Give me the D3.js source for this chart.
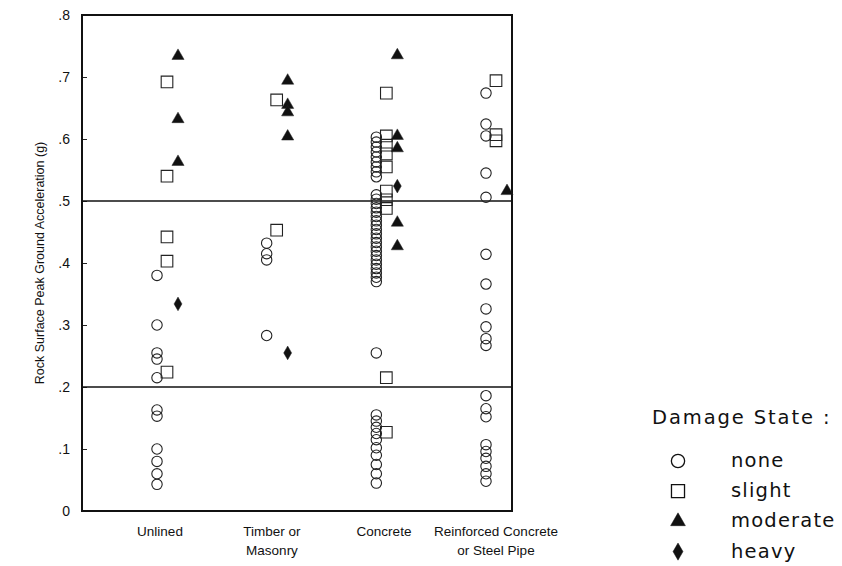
<!DOCTYPE html>
<html>
<head>
<meta charset="utf-8">
<script src="https://cdn.jsdelivr.net/npm/d3@7"></script>
<style>
  html, body { margin: 0; padding: 0; background: #fff; }
  svg { display: block; }
</style>
</head>
<body>
<svg id="chart" width="842" height="566"></svg>
<script>
// Tunnel categories along the x axis
const categories = ["Unlined", "Timber or Masonry", "Concrete", "Reinforced Concrete or Steel Pipe"];
const categoryLines = [["Unlined"], ["Timber or", "Masonry"], ["Concrete"], ["Reinforced Concrete", "or Steel Pipe"]];

// Damage states shown in the legend
const damageStates = ["none", "slight", "moderate", "heavy"];

// Rock surface PGA (g) per category, one array per damage state
const noneValues = [
  [0.38, 0.30, 0.255, 0.245, 0.215, 0.163, 0.153, 0.10, 0.08, 0.06, 0.043],
  [0.432, 0.415, 0.405, 0.283],
  [0.603, 0.595, 0.587, 0.579, 0.571, 0.563, 0.555, 0.547, 0.539,
   0.510, 0.503, 0.496, 0.489, 0.482, 0.475, 0.468, 0.461, 0.454, 0.447, 0.440,
   0.433, 0.426, 0.419, 0.412, 0.405, 0.398, 0.391, 0.384, 0.377, 0.370,
   0.255, 0.155, 0.145, 0.135, 0.125, 0.115, 0.102, 0.09, 0.075, 0.06, 0.045],
  [0.674, 0.624, 0.605, 0.545, 0.506, 0.414, 0.366, 0.326, 0.297, 0.278, 0.267,
   0.186, 0.165, 0.152, 0.107, 0.096, 0.085, 0.072, 0.06, 0.048]
];
const slightValues = [
  [0.692, 0.54, 0.442, 0.403, 0.224],
  [0.663, 0.453],
  [0.674, 0.605, 0.59, 0.576, 0.555, 0.516, 0.502, 0.488, 0.215, 0.127],
  [0.694, 0.607, 0.597]
];
const moderateValues = [
  [0.734, 0.632, 0.563],
  [0.694, 0.655, 0.643, 0.604],
  [0.735, 0.605, 0.585, 0.465, 0.427],
  [0.516]
];
const heavyValues = [
  [0.334],
  [0.255],
  [0.524],
  []
];

// Y axis ticks
const yTicks = [0, 0.1, 0.2, 0.3, 0.4, 0.5, 0.6, 0.7, 0.8];
const yTickLabels = ["0", ".1", ".2", ".3", ".4", ".5", ".6", ".7", ".8"];
// Reference levels drawn across the plot
const referenceLevels = [0.5, 0.2];

const seriesByState = [noneValues, slightValues, moderateValues, heavyValues];

const svg = d3.select("#chart");
const plot = { left: 82, top: 15, right: 512, bottom: 511 };

const y = d3.scaleLinear().domain([0, 0.8]).range([plot.bottom, plot.top]);
const x = d3.scalePoint().domain(categories).range([plot.left + 85, plot.left + 414]);
// category captions sit on their own, slightly wider spacing
const xLabel = d3.scalePoint().domain(categories).range([plot.left + 78, plot.left + 414]);

// horizontal offset of each damage state within a category column
const stateOffset = { none: -10, slight: 0, moderate: 11, heavy: 11 };

const symbolFor = {
  none: d3.symbol().type(d3.symbolCircle).size(Math.PI * 27),
  slight: d3.symbol().type(d3.symbolSquare).size(135),
  moderate: d3.symbol().type(d3.symbolTriangle).size(64),
  heavy: d3.symbol().type(d3.symbolDiamond).size(54)
};
const filled = { none: false, slight: false, moderate: true, heavy: true };

// Y axis with inward ticks
const yAxis = d3.axisLeft(y)
  .tickValues(yTicks)
  .tickFormat((d, i) => yTickLabels[i])
  .tickSizeInner(-5)
  .tickSizeOuter(0)
  .tickPadding(12);

const yg = svg.append("g")
  .attr("transform", `translate(${plot.left},0)`)
  .call(yAxis);
yg.select(".domain").remove();
yg.selectAll(".tick line").attr("stroke", "#222").attr("stroke-width", 1);
yg.selectAll(".tick text")
  .attr("font-family", "Liberation Sans, Arial, sans-serif")
  .attr("font-size", 14)
  .attr("fill", "#111");

// Reference lines
svg.append("g").selectAll("line")
  .data(referenceLevels)
  .join("line")
  .attr("x1", plot.left)
  .attr("x2", plot.right)
  .attr("y1", d => y(d))
  .attr("y2", d => y(d))
  .attr("stroke", "#111")
  .attr("stroke-width", 1.6);

// Frame
svg.append("rect")
  .attr("x", plot.left)
  .attr("y", plot.top)
  .attr("width", plot.right - plot.left)
  .attr("height", plot.bottom - plot.top)
  .attr("fill", "none")
  .attr("stroke", "#111")
  .attr("stroke-width", 2);

// Markers
damageStates.forEach((state, si) => {
  const pts = [];
  seriesByState[si].forEach((vals, ci) => {
    vals.forEach(v => pts.push({ cat: categories[ci], v }));
  });
  svg.append("g").attr("class", "state-" + state)
    .selectAll("path")
    .data(pts)
    .join("path")
    .attr("d", symbolFor[state])
    .attr("transform", d => `translate(${x(d.cat) + stateOffset[state]},${y(d.v)})`)
    .attr("fill", filled[state] ? "#111" : "none")
    .attr("stroke", "#222")
    .attr("stroke-width", filled[state] ? 0.5 : 1.1);
});

// Category labels
const catLabels = svg.append("g")
  .attr("font-family", "Liberation Sans, Arial, sans-serif")
  .attr("font-size", 13.5)
  .attr("fill", "#111")
  .attr("text-anchor", "middle");
categories.forEach((c, i) => {
  const t = catLabels.append("text")
    .attr("x", xLabel(c))
    .attr("y", 536);
  categoryLines[i].forEach((line, li) => {
    t.append("tspan")
      .attr("x", xLabel(c))
      .attr("dy", li === 0 ? 0 : 19)
      .text(line);
  });
});

// Y axis title
svg.append("text")
  .attr("transform", `translate(44,263) rotate(-90)`)
  .attr("text-anchor", "middle")
  .attr("font-family", "Liberation Sans, Arial, sans-serif")
  .attr("font-size", 12.5)
  .attr("fill", "#111")
  .text("Rock Surface Peak Ground Acceleration (g)");

// Legend
const legend = svg.append("g")
  .attr("font-family", "DejaVu Sans, sans-serif")
  .attr("fill", "#111");
legend.append("text")
  .attr("x", 652)
  .attr("y", 424)
  .attr("font-size", 19.5)
  .attr("letter-spacing", 1.9)
  .text("Damage State :");

const legendSymbol = {
  none: d3.symbol().type(d3.symbolCircle).size(Math.PI * 44),
  slight: d3.symbol().type(d3.symbolSquare).size(170),
  moderate: d3.symbol().type(d3.symbolTriangle).size(95),
  heavy: d3.symbol().type(d3.symbolDiamond).size(85)
};
damageStates.forEach((state, i) => {
  const cy = 461 + i * 30.2;
  legend.append("path")
    .attr("d", legendSymbol[state])
    .attr("transform", `translate(678,${cy})`)
    .attr("fill", filled[state] ? "#111" : "none")
    .attr("stroke", "#111")
    .attr("stroke-width", filled[state] ? 0.5 : 1.3);
  legend.append("text")
    .attr("x", 731)
    .attr("y", cy + 6)
    .attr("font-size", 19.5)
    .attr("letter-spacing", 1.2)
    .text(state);
});
</script>
</body>
</html>
